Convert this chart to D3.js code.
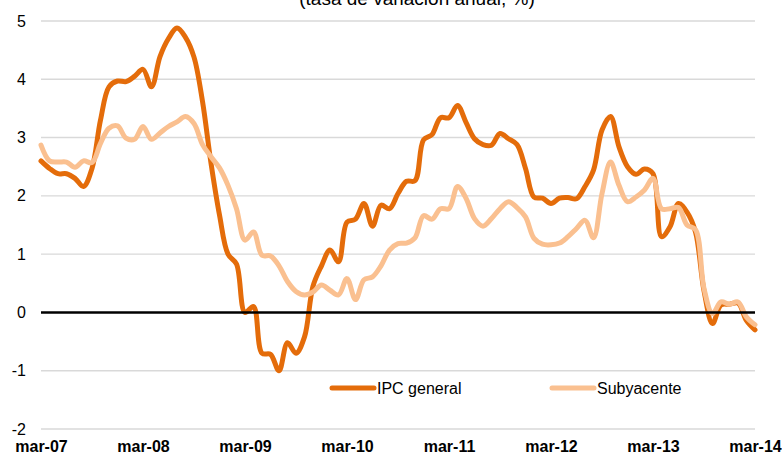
<!DOCTYPE html>
<meta charset="utf-8">
<style>
body { margin: 0; background: #fff; }
text { font-family: "Liberation Sans", Arial, sans-serif; fill: #000; }
.grid line { stroke: #d9d9d9; stroke-width: 1.4; }
.series { fill: none; stroke-width: 5; stroke-linejoin: round; stroke-linecap: round; }
</style>
<svg width="782" height="458"></svg>
<script src="https://cdn.jsdelivr.net/npm/d3@7/dist/d3.min.js"></script>
<script>

// monthly, mar-07 .. mar-14
var ipcGeneral = [
  2.6, 2.47, 2.38, 2.38, 2.3, 2.16, 2.47, 3.3, 3.87, 3.97, 3.96, 4.05,
  4.17, 3.87, 4.39, 4.7, 4.88, 4.72, 4.38, 3.62, 2.56, 1.67, 1.0, 0.83,
  0.0, 0.1, -0.7, -0.72, -1.0, -0.52, -0.7, -0.42, 0.45, 0.8, 1.07, 0.87,
  1.55, 1.6, 1.87, 1.48, 1.84, 1.78, 2.04, 2.25, 2.26, 2.96, 3.05, 3.34,
  3.34, 3.55, 3.26, 2.98, 2.88, 2.87, 3.07, 2.98, 2.88, 2.47, 1.98, 1.96,
  1.87, 1.96, 1.97, 1.95, 2.16, 2.44, 3.13, 3.36, 2.84, 2.5, 2.37, 2.46,
  2.38, 1.3, 1.47, 1.87, 1.72, 1.38, 0.37, -0.19, 0.13, 0.14, 0.16, -0.14,
  -0.3
];
var subyacente = [
  2.87, 2.6, 2.58, 2.58, 2.49, 2.6, 2.57, 2.9, 3.16, 3.2, 2.99, 2.97,
  3.19, 2.97, 3.08, 3.19, 3.27, 3.36, 3.24, 2.88, 2.67, 2.48, 2.18, 1.78,
  1.24, 1.38, 0.98, 0.97, 0.8, 0.53, 0.36, 0.3, 0.35, 0.47, 0.38, 0.3,
  0.58, 0.22, 0.56, 0.61, 0.8, 1.07, 1.18, 1.19, 1.28, 1.66, 1.6, 1.78,
  1.78, 2.16, 1.96, 1.61, 1.48, 1.61, 1.78, 1.9, 1.8, 1.64, 1.27, 1.17,
  1.16, 1.19, 1.3, 1.44, 1.58, 1.28, 2.04, 2.58, 2.18, 1.9, 1.98, 2.1,
  2.3, 1.78, 1.78, 1.8, 1.5, 1.42, 0.41, -0.02, 0.18, 0.14, 0.18, -0.08,
  -0.21
];
var xTickLabels = ["mar-07", "mar-08", "mar-09", "mar-10", "mar-11", "mar-12", "mar-13", "mar-14"];
var yTicks = [-2, -1, 0, 1, 2, 3, 4, 5];
var seriesNames = ["IPC general", "Subyacente"];
var colors = ["#e46c0a", "#fac090"];
var title = "(tasa de variación anual, %)";

var svg = d3.select("svg");

var x = d3.scaleLinear()
    .domain([0, ipcGeneral.length - 1])
    .range([41, 755]);

var y = d3.scaleLinear()
    .domain([-2, 5])
    .range([429, 21]);

svg.append("text")
    .attr("x", 417)
    .attr("y", 5)
    .attr("text-anchor", "middle")
    .style("font-size", "19px")
    .text(title);

// gridlines
svg.append("g")
    .attr("class", "grid")
  .selectAll("line")
  .data(yTicks.filter(function(d) { return d !== 0; }))
  .enter().append("line")
    .attr("x1", x.range()[0])
    .attr("x2", x.range()[1])
    .attr("y1", function(d) { return y(d); })
    .attr("y2", function(d) { return y(d); });

// y labels (plain hyphen for negatives)
svg.append("g")
    .attr("transform", "translate(26,0)")
    .call(d3.axisLeft(y).tickValues(yTicks).tickFormat(function(d) { return String(d); }).tickSize(0).tickPadding(0))
    .call(function(g) { g.select(".domain").remove(); })
  .selectAll("text")
    .attr("fill", "#000")
    .style("font-size", "16px")
    .style("font-family", "Liberation Sans, Arial, sans-serif");

// x labels
svg.append("g")
    .attr("transform", "translate(0,440)")
    .call(d3.axisBottom(x)
      .tickValues(d3.range(0, ipcGeneral.length, 12))
      .tickFormat(function(d, i) { return xTickLabels[i]; })
      .tickSize(0).tickPadding(0))
    .call(function(g) { g.select(".domain").remove(); })
  .selectAll("text")
    .attr("fill", "#000")
    .attr("dy", "0.72em")
    .style("font-size", "16px")
    .style("font-weight", "bold")
    .style("font-family", "Liberation Sans, Arial, sans-serif");

var line = d3.line()
    .x(function(d, i) { return x(i); })
    .y(function(d) { return y(d); })
    .curve(d3.curveCatmullRom.alpha(0.5));

svg.selectAll(".series")
  .data([ipcGeneral, subyacente])
  .enter().append("path")
    .attr("class", "series")
    .attr("stroke", function(d, i) { return colors[i]; })
    .attr("d", line);

// zero line
svg.append("line")
    .attr("x1", x.range()[0])
    .attr("x2", x.range()[1])
    .attr("y1", y(0))
    .attr("y2", y(0))
    .attr("stroke", "#000")
    .attr("stroke-width", 2.6);

// legend
var legend = svg.append("g")
  .selectAll("g")
  .data(seriesNames)
  .enter().append("g")
    .attr("transform", function(d, i) { return "translate(" + [332, 552][i] + ",388)"; });

legend.append("line")
    .attr("x1", 0)
    .attr("x2", 42)
    .attr("stroke", function(d, i) { return colors[i]; })
    .attr("stroke-width", 5)
    .attr("stroke-linecap", "round");

legend.append("text")
    .attr("x", 45)
    .attr("dy", "0.35em")
    .style("font-size", "16px")
    .text(function(d) { return d; });

</script>
